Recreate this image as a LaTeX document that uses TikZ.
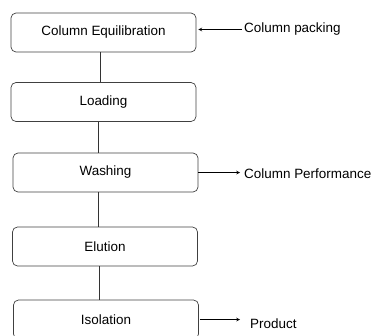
\documentclass[tikz,border=0pt]{standalone}
\usepackage{fontspec}
\setmainfont{Liberation Sans}
\usetikzlibrary{arrows}
\tikzstyle{stage} = [rectangle, rounded corners=5bp, minimum width=185bp, minimum height=39bp, text centered, draw=black!75, line width=0.7pt, font=\fontsize{13.5}{16}\selectfont]
\tikzstyle{side} = [anchor=west, inner sep=2bp, font=\fontsize{13.5}{16}\selectfont]
\tikzstyle{link} = [draw=black!80, line width=0.7pt]
\tikzstyle{arrow} = [line width=0.7pt,->,>=stealth]

\begin{document}
\begin{tikzpicture}[x=1bp,y=-1bp]
\useasboundingbox (0,0) rectangle (379,336);
\clip (0,0) rectangle (379,336);

% process stages
\node[stage] (equil) at (103.5,32.5) {Column Equilibration};
\node[stage] (load) at (103.5,102) {Loading};
\node[stage] (wash) at (105.5,172.5) {Washing};
\node[stage] (elute) at (105,246.5) {Elution};
\node[stage] (iso) at (106,319.5) {Isolation};

% vertical links
\draw[link] ([xshift=-3.5bp]equil.south) -- ([xshift=-3.5bp]load.north);
\draw[link] ([xshift=-5.5bp]load.south) -- ([xshift=-5.5bp]load.south |- wash.north);
\draw[link] ([xshift=-7.5bp]wash.south) -- ([xshift=-7.5bp]wash.south |- elute.north);
\draw[link] ([xshift=-6bp]elute.south) -- ([xshift=-6bp]elute.south |- iso.north);

% side inputs and outputs
\node[side] (pack) at (242,29.5) {Column packing};
\node[side] (perf) at (242,174) {Column Performance};
\node[side] (prod) at (248,324) {Product};

\draw[arrow] (pack.west) -- ([xshift=2bp]equil.east |- pack.west);
\draw[arrow] (wash.east) -- ([xshift=-2bp]perf.west |- wash.east);
\draw[arrow] ([xshift=1bp]iso.east) -- ([xshift=-8bp]prod.west |- iso.east);
\end{tikzpicture}
\end{document}
